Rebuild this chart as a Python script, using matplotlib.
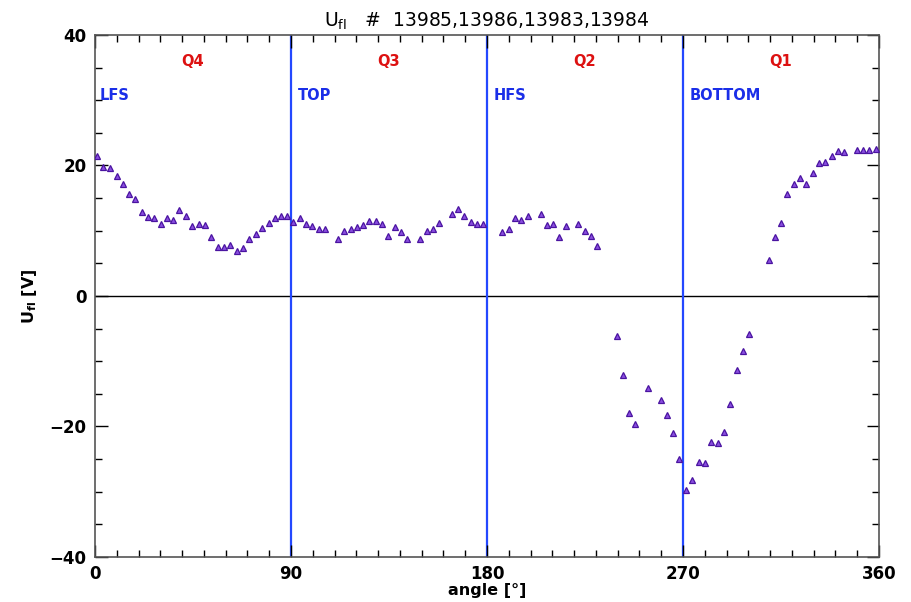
import matplotlib
matplotlib.use("Agg")
import matplotlib.pyplot as plt
from matplotlib.ticker import MultipleLocator

angle = [1.1, 3.8, 6.9, 10.0, 12.7, 15.6, 18.5, 21.4, 24.2, 27.2, 30.2, 33.1, 36.0, 38.7,
         41.8, 44.7, 47.6, 50.5, 53.4, 56.3, 59.2, 62.1, 65.0, 68.0, 70.8, 73.8, 76.7,
         79.8, 82.5, 85.4, 88.3,
         91.0, 94.0, 96.9, 99.8, 102.7, 105.6, 111.4, 114.5, 117.4, 120.3, 123.2, 125.9,
         129.0, 131.8, 134.7, 137.6, 140.5, 143.4, 149.2, 152.3, 155.2, 158.1, 163.8,
         166.7, 169.6, 172.5, 175.4, 178.1,
         187.0, 190.1, 192.8, 195.7, 198.7, 204.6, 207.5, 210.4, 213.2, 216.1, 221.9,
         224.8, 227.7, 230.6,
         239.5, 242.3, 245.2, 248.1, 253.9, 259.7, 262.6, 265.5, 268.3, 271.2, 274.2,
         277.2, 280.1, 283.0, 285.9, 288.8, 291.7, 294.6, 297.5, 300.4,
         309.3, 312.1, 315.0, 317.9, 320.8, 323.7, 326.6, 329.5, 332.4, 335.3, 338.2,
         341.1, 344.0, 349.7, 352.6, 355.5, 358.4]
ufl = [21.5, 19.7, 19.6, 18.4, 17.2, 15.6, 14.8, 12.9, 12.1, 12.0, 11.1, 12.0, 11.7, 13.2,
       12.3, 10.8, 11.0, 10.9, 9.1, 7.5, 7.5, 7.8, 6.9, 7.3, 8.8, 9.5, 10.4,
       11.2, 12.0, 12.2, 12.3,
       11.4, 12.0, 11.0, 10.7, 10.2, 10.2, 8.7, 10.0, 10.2, 10.6, 10.9, 11.5,
       11.5, 11.1, 9.2, 10.6, 9.8, 8.8, 8.8, 10.0, 10.3, 11.2, 12.5,
       13.3, 12.2, 11.4, 11.0, 11.0,
       9.8, 10.2, 11.9, 11.6, 12.2, 12.5, 10.9, 11.0, 9.0, 10.8, 11.1,
       10.0, 9.2, 7.7,
       -6.1, -12.1, -17.9, -19.6, -14.1, -15.9, -18.2, -21.0, -25.0, -29.8, -28.2,
       -25.4, -25.6, -22.4, -22.6, -20.9, -16.6, -11.4, -8.5, -5.9,
       5.5, 9.0, 11.2, 15.7, 17.2, 18.1, 17.1, 18.9, 20.4, 20.5, 21.5,
       22.2, 22.1, 22.3, 22.4, 22.3, 22.5]

quadrants = ["Q4", "Q3", "Q2", "Q1"]
quad_x = [45, 135, 225, 315]
regions = ["LFS", "TOP", "HFS", "BOTTOM"]
region_x = [2, 93, 183, 273]
boundaries = [90, 180, 270]
xticks = [0, 90, 180, 270, 360]
yticks = [-40, -20, 0, 20, 40]

plt.rcParams['font.family'] = ['DejaVu Sans']
fig = plt.figure(figsize=(9.12, 6.02), dpi=100)
ax = fig.add_axes([0.1042, 0.0748, 0.8596, 0.8671])

ax.axhline(0, color='black', lw=1.0, zorder=1)
for b in boundaries:
    ax.axvline(b, color='#2448ff', lw=1.6, zorder=1)

ax.plot(angle, ufl, linestyle='none', marker='^', markersize=4.8,
        markerfacecolor='#8a4ee0', markeredgecolor='#4a14a0', markeredgewidth=0.9, zorder=3)

for q, x in zip(quadrants, quad_x):
    ax.text(x, 36, q, color='#dd1111', fontsize=10.5, fontweight='bold', ha='center', va='center')
for r, x in zip(regions, region_x):
    ax.text(x, 30.8, r, color='#1a2ee8', fontsize=10.5, fontweight='bold', ha='left', va='center')

ax.set_xlim(0, 360)
ax.set_ylim(-40, 40)
ax.set_xticks(xticks)
ax.set_yticks(yticks)
ax.xaxis.set_minor_locator(MultipleLocator(10))
ax.yaxis.set_minor_locator(MultipleLocator(5))
ax.tick_params(which='both', direction='in', top=True, right=True, labelsize=12, pad=6)
ax.tick_params(which='major', length=9, width=1)
ax.tick_params(which='minor', length=5, width=1)
for lbl in ax.get_xticklabels() + ax.get_yticklabels():
    lbl.set_fontweight('bold')
for s in ax.spines.values():
    s.set_linewidth(1.2)
    s.set_color('#555555')

ax.set_xlabel('angle [°]', fontsize=11.5, fontweight='bold', labelpad=0)
ax.set_ylabel(r'U$_{\mathbf{fl}}$ [V]', fontsize=11.5, fontweight='bold', labelpad=8)
ax.set_title(r'U$_{\mathrm{fl}}$   #  13985,13986,13983,13984', fontsize=13.5, pad=6)

fig.savefig('out.png', dpi=100, facecolor='white')
